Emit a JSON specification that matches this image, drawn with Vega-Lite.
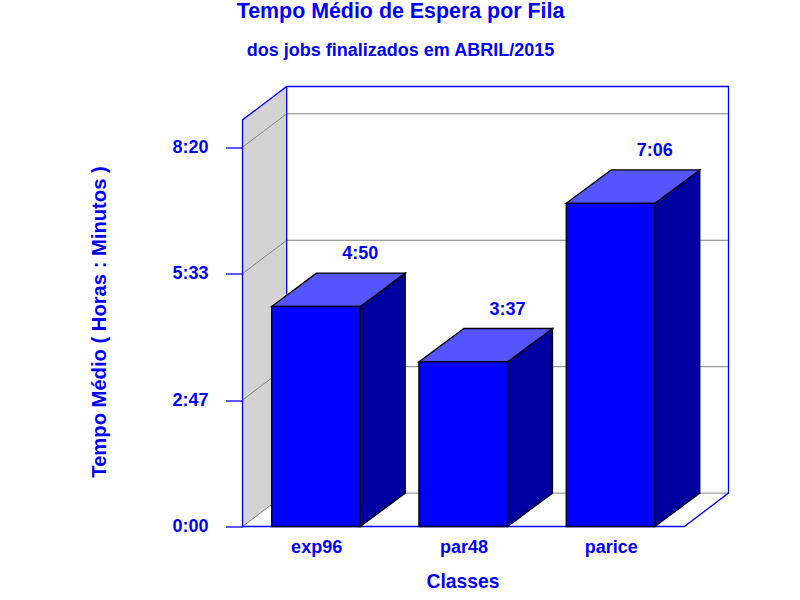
{
  "$schema": "https://vega.github.io/schema/vega-lite/v6.json",
  "width": 486,
  "height": 440,
  "autosize": {"type": "none"},
  "padding": {"left": 242.5, "top": 86.5, "right": 71.5, "bottom": 73.5},
  "background": "white",
  "config": {"view": {"stroke": null}, "font": "Liberation Sans"},
  "title": {
    "text": "Tempo Médio de Espera por Fila",
    "subtitle": "dos jobs finalizados em ABRIL/2015",
    "anchor": "middle",
    "dx": -85,
    "offset": 24,
    "color": "#0000ff",
    "subtitleColor": "#0000ff",
    "font": "Liberation Sans",
    "subtitleFont": "Liberation Sans",
    "fontSize": 21.4,
    "fontWeight": "bold",
    "subtitleFontSize": 18,
    "subtitleFontWeight": "bold",
    "subtitlePadding": 20
  },
  "datasets": {
    "bars": [
      {"class": "exp96", "pos": 0, "x0": -0.302, "x1": 0.3, "base": 0, "minutes": 290, "backTop": 334, "label": "4:50"},
      {"class": "par48", "pos": 1, "x0": 0.698, "x1": 1.3, "base": 0, "minutes": 217, "backTop": 261, "label": "3:37"},
      {"class": "parice", "pos": 2, "x0": 1.698, "x1": 2.3, "base": 0, "minutes": 426, "backTop": 470, "label": "7:06"}
    ],
    "sideFaces": [
      {"class": "exp96", "x": 0.3, "low": 0, "high": 290},
      {"class": "exp96", "x": 0.605, "low": 44, "high": 334},
      {"class": "par48", "x": 1.3, "low": 0, "high": 217},
      {"class": "par48", "x": 1.605, "low": 44, "high": 261},
      {"class": "parice", "x": 2.3, "low": 0, "high": 426},
      {"class": "parice", "x": 2.605, "low": 44, "high": 470}
    ],
    "topFaces": [
      {"class": "exp96", "y": 290, "a": -0.302, "b": 0.3},
      {"class": "exp96", "y": 334, "a": 0.003, "b": 0.605},
      {"class": "par48", "y": 217, "a": 0.698, "b": 1.3},
      {"class": "par48", "y": 261, "a": 1.003, "b": 1.605},
      {"class": "parice", "y": 426, "a": 1.698, "b": 2.3},
      {"class": "parice", "y": 470, "a": 2.003, "b": 2.605}
    ],
    "wall": [
      {"x": -0.5, "low": 0, "high": 536},
      {"x": -0.2, "low": 44, "high": 580}
    ],
    "grid": [
      {"level": 0, "x": -0.5, "y": 0, "o": 0},
      {"level": 0, "x": -0.2, "y": 44, "o": 1},
      {"level": 0, "x": 2.8, "y": 44, "o": 2},
      {"level": 167, "x": -0.5, "y": 166.67, "o": 0},
      {"level": 167, "x": -0.2, "y": 210.67, "o": 1},
      {"level": 167, "x": 2.8, "y": 210.67, "o": 2},
      {"level": 333, "x": -0.5, "y": 333.33, "o": 0},
      {"level": 333, "x": -0.2, "y": 377.33, "o": 1},
      {"level": 333, "x": 2.8, "y": 377.33, "o": 2},
      {"level": 500, "x": -0.5, "y": 500, "o": 0},
      {"level": 500, "x": -0.2, "y": 544, "o": 1},
      {"level": 500, "x": 2.8, "y": 544, "o": 2}
    ],
    "frame": [
      {"part": "floor", "x": -0.5, "y": 0, "o": 0},
      {"part": "floor", "x": 2.5, "y": 0, "o": 1},
      {"part": "floor", "x": 2.8, "y": 44, "o": 2},
      {"part": "floor", "x": 2.8, "y": 580, "o": 3},
      {"part": "floor", "x": -0.2, "y": 580, "o": 4},
      {"part": "floor", "x": -0.5, "y": 536, "o": 5},
      {"part": "floor", "x": -0.5, "y": 0, "o": 6},
      {"part": "inner", "x": -0.2, "y": 580, "o": 0},
      {"part": "inner", "x": -0.2, "y": 44, "o": 1}
    ]
  },
  "layer": [
    {
      "data": {"name": "bars"},
      "mark": {"type": "point", "opacity": 0, "size": 1},
      "encoding": {
        "x": {
          "field": "pos",
          "type": "quantitative",
          "scale": {"domain": [-0.5, 2.8], "nice": false, "zero": false},
          "axis": {
            "values": [0, 1, 2],
            "labelExpr": "['exp96','par48','parice'][datum.value]",
            "title": "Classes",
            "domain": false,
            "ticks": false,
            "grid": false,
            "labelColor": "#0000ff",
            "labelFont": "Liberation Sans",
            "labelFontSize": 18,
            "labelFontWeight": "bold",
            "labelPadding": 12,
            "titleColor": "#0000ff",
            "titleFont": "Liberation Sans",
            "titleFontSize": 19.3,
            "titleFontWeight": "bold",
            "titleX": 220,
            "titleY": 55,
            "titleBaseline": "middle",
            "labelOverlap": false,
            "labelFlush": false
          }
        },
        "y": {
          "field": "minutes",
          "type": "quantitative",
          "scale": {"domain": [0, 580], "nice": false, "zero": false},
          "axis": {
            "values": [0, 166.67, 333.33, 500],
            "labelExpr": "{'0':'0:00','166.67':'2:47','333.33':'5:33','500':'8:20'}[datum.value]",
            "title": "Tempo Médio ( Horas : Minutos )",
            "domain": false,
            "grid": false,
            "tickColor": "#0000ff",
            "tickSize": 17,
            "tickWidth": 1.3,
            "labelColor": "#0000ff",
            "labelFont": "Liberation Sans",
            "labelFontSize": 18,
            "labelFontWeight": "bold",
            "labelPadding": 17.5,
            "titleColor": "#0000ff",
            "titleFont": "Liberation Sans",
            "titleFontSize": 20.2,
            "titleFontWeight": "bold",
            "titleX": -143,
            "titleY": 235,
            "titleBaseline": "middle",
            "labelOverlap": false,
            "labelFlush": false
          }
        }
      }
    },
    {
      "data": {"name": "wall"},
      "mark": {"type": "area", "fill": "#d3d3d3", "clip": false},
      "encoding": {
        "x": {"field": "x", "type": "quantitative"},
        "y": {"field": "low", "type": "quantitative"},
        "y2": {"field": "high"}
      }
    },
    {
      "data": {"name": "grid"},
      "mark": {"type": "line", "color": "#808080", "strokeWidth": 1, "clip": false},
      "encoding": {
        "x": {"field": "x", "type": "quantitative"},
        "y": {"field": "y", "type": "quantitative"},
        "detail": {"field": "level", "type": "nominal"},
        "order": {"field": "o", "type": "quantitative"}
      }
    },
    {
      "data": {"name": "frame"},
      "mark": {"type": "line", "color": "#0000ff", "strokeWidth": 1.3, "clip": false},
      "encoding": {
        "x": {"field": "x", "type": "quantitative"},
        "y": {"field": "y", "type": "quantitative"},
        "detail": {"field": "part", "type": "nominal"},
        "order": {"field": "o", "type": "quantitative"}
      }
    },
    {
      "data": {"name": "sideFaces"},
      "mark": {"type": "area", "fill": "#0000a0", "stroke": "#000000", "strokeWidth": 1.3, "clip": false},
      "encoding": {
        "x": {"field": "x", "type": "quantitative"},
        "y": {"field": "low", "type": "quantitative"},
        "y2": {"field": "high"},
        "detail": {"field": "class", "type": "nominal"}
      }
    },
    {
      "data": {"name": "topFaces"},
      "mark": {"type": "area", "orient": "horizontal", "fill": "#5555ff", "stroke": "#000000", "strokeWidth": 1.3, "clip": false},
      "encoding": {
        "y": {"field": "y", "type": "quantitative"},
        "x": {"field": "a", "type": "quantitative"},
        "x2": {"field": "b"},
        "detail": {"field": "class", "type": "nominal"}
      }
    },
    {
      "data": {"name": "bars"},
      "mark": {"type": "rect", "fill": "#0000ff", "stroke": "#000000", "strokeWidth": 1.3, "clip": false},
      "encoding": {
        "x": {"field": "x0", "type": "quantitative"},
        "x2": {"field": "x1"},
        "y": {"field": "base", "type": "quantitative"},
        "y2": {"field": "minutes"}
      }
    },
    {
      "data": {"name": "bars"},
      "mark": {"type": "text", "color": "#0000ff", "font": "Liberation Sans", "fontSize": 18, "fontWeight": "bold", "align": "center", "baseline": "middle", "dy": -19, "clip": false},
      "encoding": {
        "x": {"field": "x1", "type": "quantitative"},
        "y": {"field": "backTop", "type": "quantitative"},
        "text": {"field": "label", "type": "nominal"}
      }
    }
  ]
}
